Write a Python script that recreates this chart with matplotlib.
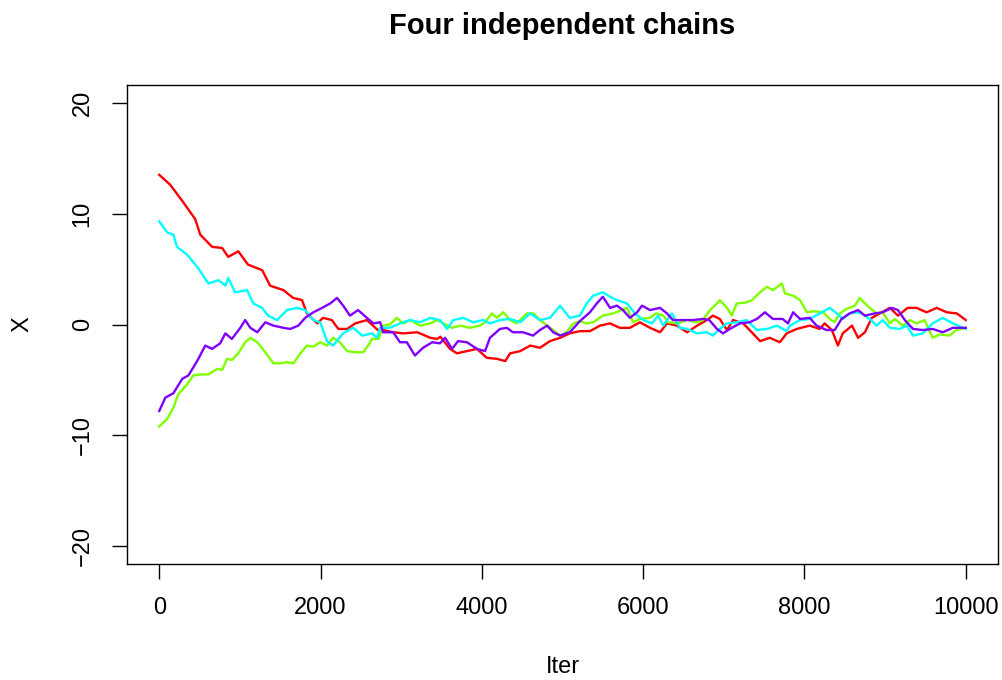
import matplotlib
matplotlib.use("Agg")
import matplotlib.pyplot as plt

plt.rcParams['font.family'] = ['Liberation Sans', 'DejaVu Sans']

title = "Four independent chains"
xlabel = "Iter"
ylabel = "X"
xticks = [0, 2000, 4000, 6000, 8000, 10000]
yticks = [-20, -10, 0, 10, 20]

red_iter = [0, 136, 300, 446, 508, 656, 780, 855, 980, 1100,
            1276, 1375, 1540, 1660, 1770, 1830, 1960, 2030, 2140, 2220,
            2330, 2430, 2575, 2710, 2775, 2900, 3025, 3200, 3360, 3445,
            3485, 3605, 3690, 3815, 3940, 4060, 4190, 4290, 4350, 4475,
            4600, 4720, 4845, 4970, 5090, 5215, 5340, 5465, 5590, 5710,
            5835, 5960, 6085, 6210, 6295, 6420, 6545, 6670, 6790, 6865,
            6950, 7040, 7115, 7240, 7360, 7450, 7570, 7695, 7780, 7905,
            8065, 8190, 8250, 8340, 8415, 8475, 8590, 8665, 8750, 8835,
            8935, 9060, 9160, 9280, 9390, 9515, 9640, 9765, 9890, 10000]
red_x = [13.5, 12.6, 11.0, 9.5, 8.1, 7.0, 6.9, 6.1, 6.6, 5.4,
         4.9, 3.5, 3.1, 2.4, 2.2, 1.0, 0.1, 0.6, 0.4, -0.4,
         -0.4, 0.1, 0.4, -0.5, -0.5, -0.7, -0.8, -0.7, -1.2, -1.3,
         -1.1, -2.2, -2.6, -2.4, -2.2, -3.0, -3.1, -3.3, -2.6, -2.4,
         -1.9, -2.1, -1.5, -1.2, -0.8, -0.6, -0.6, -0.1, 0.1, -0.3,
         -0.3, 0.2, -0.3, -0.7, 0.1, -0.1, -0.7, -0.1, 0.4, 0.8,
         0.5, -0.5, 0.4, 0.1, -0.8, -1.5, -1.2, -1.6, -0.8, -0.4,
         -0.1, -0.4, 0.1, -0.5, -1.9, -0.8, -0.1, -1.2, -0.7, 0.6,
         1.0, 1.5, 0.8, 1.5, 1.5, 1.1, 1.5, 1.1, 1.0, 0.4]

green_iter = [0, 100, 175, 235, 345, 420, 508, 610, 720, 780,
              840, 900, 980, 1065, 1130, 1215, 1315, 1415, 1500, 1585,
              1665, 1750, 1830, 1910, 1995, 2080, 2155, 2240, 2330, 2430,
              2530, 2590, 2640, 2720, 2775, 2860, 2945, 3025, 3110, 3235,
              3360, 3445, 3525, 3630, 3730, 3850, 3975, 4040, 4125, 4185,
              4265, 4350, 4430, 4560, 4640, 4720, 4810, 4885, 4970, 5050,
              5135, 5215, 5300, 5380, 5500, 5630, 5730, 5800, 5875, 5960,
              6085, 6160, 6250, 6310, 6420, 6545, 6670, 6740, 6830, 6915,
              6950, 7040, 7100, 7160, 7285, 7350, 7450, 7535, 7610, 7720,
              7760, 7860, 7945, 8030, 8110, 8230, 8315, 8375, 8440, 8520,
              8625, 8685, 8750, 8810, 8895, 8970, 9060, 9120, 9220, 9305,
              9390, 9490, 9590, 9675, 9800, 9880, 10000]
green_x = [-9.2, -8.5, -7.5, -6.3, -5.4, -4.6, -4.5, -4.5, -4.0, -4.1,
           -3.1, -3.2, -2.6, -1.6, -1.2, -1.6, -2.5, -3.5, -3.5, -3.4,
           -3.5, -2.6, -1.9, -2.0, -1.6, -1.9, -1.2, -1.6, -2.4, -2.5,
           -2.5, -1.9, -1.3, -1.3, -0.1, 0.0, 0.6, 0.1, 0.4, -0.1,
           0.1, 0.4, 0.1, -0.3, -0.1, -0.3, -0.1, 0.2, 1.0, 0.6,
           1.1, 0.4, 0.1, 1.0, 1.0, 0.4, -0.1, -0.5, -1.0, -0.7,
           0.1, 0.3, 0.1, 0.2, 0.8, 1.0, 1.3, 1.5, 0.2, 0.5,
           0.6, 1.0, 0.8, 0.2, 0.1, 0.4, 0.2, 0.4, 1.3, 1.9,
           2.2, 1.5, 0.8, 1.9, 2.0, 2.2, 2.9, 3.4, 3.1, 3.7,
           2.8, 2.6, 2.2, 1.1, 1.2, 1.1, 0.5, 0.2, 1.0, 1.4,
           1.7, 2.4, 1.9, 1.5, 1.0, 1.1, 0.1, 0.5, -0.1, 0.4,
           0.1, 0.4, -1.2, -0.9, -1.0, -0.5, -0.3]

cyan_iter = [0, 100, 175, 220, 345, 470, 610, 735, 820, 855,
             940, 1090, 1165, 1275, 1350, 1460, 1585, 1710, 1810, 1910,
             1995, 2080, 2155, 2280, 2405, 2515, 2640, 2700, 2740, 2860,
             2985, 3110, 3235, 3360, 3480, 3570, 3645, 3770, 3890, 4015,
             4100, 4225, 4350, 4475, 4600, 4720, 4845, 4970, 5090, 5215,
             5300, 5380, 5500, 5590, 5675, 5800, 5900, 6000, 6110, 6185,
             6250, 6355, 6455, 6545, 6670, 6790, 6865, 6950, 7040, 7160,
             7285, 7410, 7535, 7660, 7780, 7820, 7945, 8065, 8190, 8315,
             8400, 8475, 8560, 8685, 8810, 8895, 8970, 9060, 9180, 9270,
             9345, 9470, 9590, 9715, 9840, 10000]
cyan_x = [9.3, 8.3, 8.1, 7.0, 6.3, 5.2, 3.7, 4.0, 3.5, 4.2,
          2.9, 3.1, 1.9, 1.5, 0.8, 0.4, 1.3, 1.5, 1.3, 0.4,
          0.2, -1.5, -1.9, -0.8, -0.3, -1.0, -0.8, -1.2, -0.3, -0.3,
          0.1, 0.4, 0.2, 0.6, 0.4, -0.4, 0.4, 0.6, 0.2, 0.4,
          0.1, 0.4, 0.5, 0.2, 1.0, 0.4, 0.6, 1.7, 0.6, 0.8,
          1.9, 2.6, 2.9, 2.5, 2.2, 1.9, 1.0, 0.4, 0.1, 0.8,
          -0.1, 1.0, -0.3, -0.4, -0.8, -0.7, -1.0, -0.4, 0.1, 0.2,
          0.4, -0.5, -0.4, -0.1, -0.6, -0.1, 0.4, 0.5, 1.0, 1.5,
          1.0, 0.5, 1.0, 1.1, 0.5, -0.1, 0.4, -0.3, -0.4, -0.1,
          -1.0, -0.8, 0.1, 0.6, 0.1, -0.4]

purple_iter = [0, 75, 175, 285, 360, 470, 570, 655, 755, 820,
               900, 1005, 1065, 1130, 1215, 1315, 1415, 1540, 1625, 1725,
               1810, 1910, 2020, 2120, 2205, 2280, 2365, 2465, 2575, 2655,
               2740, 2775, 2900, 2985, 3070, 3170, 3270, 3385, 3480, 3545,
               3630, 3705, 3815, 3940, 4040, 4100, 4225, 4310, 4385, 4510,
               4635, 4720, 4810, 4885, 4970, 5090, 5215, 5340, 5425, 5500,
               5590, 5675, 5750, 5835, 5925, 5985, 6085, 6210, 6295, 6370,
               6495, 6620, 6740, 6820, 6915, 6990, 7075, 7200, 7320, 7410,
               7510, 7610, 7730, 7795, 7860, 7945, 8065, 8150, 8275, 8375,
               8460, 8560, 8665, 8750, 8870, 8970, 9085, 9160, 9245, 9345,
               9470, 9590, 9715, 9840, 10000]
purple_x = [-7.8, -6.6, -6.2, -4.9, -4.6, -3.3, -1.9, -2.2, -1.7, -0.8,
            -1.3, -0.3, 0.4, -0.3, -0.7, 0.2, -0.1, -0.3, -0.4, -0.1,
            0.6, 1.1, 1.5, 1.9, 2.4, 1.7, 0.8, 1.3, 0.6, 0.1,
            0.2, -0.7, -0.7, -1.6, -1.6, -2.8, -2.1, -1.6, -1.7, -1.2,
            -2.2, -1.5, -1.6, -2.2, -2.4, -1.2, -0.4, -0.3, -0.7, -0.7,
            -1.0, -0.5, -0.1, -0.7, -1.0, -0.7, 0.3, 1.1, 1.9, 2.5,
            1.5, 1.7, 1.3, 0.6, 1.1, 1.7, 1.3, 1.5, 1.0, 0.4,
            0.4, 0.4, 0.5, 0.4, -0.4, -0.8, -0.4, 0.1, 0.2, 0.5,
            1.1, 0.5, 0.5, 0.1, 1.1, 0.5, 0.6, -0.1, -0.5, -0.5,
            0.5, 1.0, 1.3, 0.8, 1.0, 1.1, 1.5, 1.3, 0.4, -0.4,
            -0.5, -0.4, -0.7, -0.3, -0.3]

chains = [
    (red_iter, red_x, "#FF0000"),
    (green_iter, green_x, "#80FF00"),
    (cyan_iter, cyan_x, "#00FFFF"),
    (purple_iter, purple_x, "#8000FF"),
]

W, H = 1002, 680
fig = plt.figure(figsize=(W / 100, H / 100), dpi=100)
L, R, T, B = 127, 998, 85, 564
ax = fig.add_axes([L / W, 1 - B / H, (R - L) / W, (B - T) / H])

for it, xv, col in chains:
    ax.plot(it, xv, color=col, lw=1.7, solid_joinstyle="round")

ax.set_xlim(-400, 10400)
ax.set_ylim(-21.6, 21.6)
ax.set_xticks(xticks)
ax.set_xticklabels([str(v) for v in xticks])
ax.set_yticks(yticks)
ax.set_yticklabels(["\u221220", "\u221210", "0", "10", "20"], rotation=90, va="center")
ax.tick_params(axis="both", direction="out", length=11, width=1.0, labelsize=17,
               pad=13, colors="black")
for s in ax.spines.values():
    s.set_linewidth(1.0)
    s.set_color("black")

fig.text((L + R) / 2 / W, 1 - 26 / H, title, ha="center", va="center",
         fontsize=21, fontweight="bold")
fig.text((L + R) / 2 / W, 1 - 667 / H, xlabel, ha="center", va="center", fontsize=17)
fig.text(22 / W, 1 - ((T + B) / 2) / H, ylabel, ha="center", va="center",
         fontsize=17, rotation=90)

fig.savefig("out.png", dpi=100)
